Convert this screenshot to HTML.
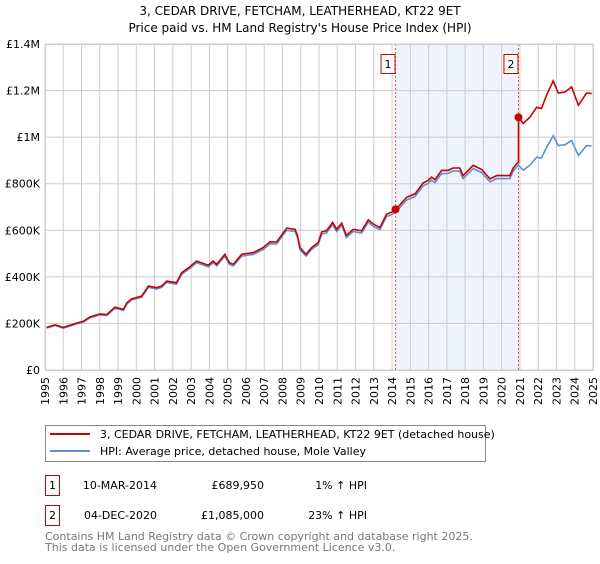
<!DOCTYPE html>
<html><head><meta charset="utf-8"><style>
body{margin:0;background:#fff;width:600px;height:560px;overflow:hidden;font-family:"DejaVu Sans","Liberation Sans",sans-serif;}
svg text{font-family:"DejaVu Sans","Liberation Sans",sans-serif;}
</style></head><body>
<svg id="c" width="600" height="560" xmlns="http://www.w3.org/2000/svg">
<text x="300" y="15" text-anchor="middle" font-size="12" fill="#000">3, CEDAR DRIVE, FETCHAM, LEATHERHEAD, KT22 9ET</text>
<text x="300" y="32" text-anchor="middle" font-size="12" fill="#000">Price paid vs. HM Land Registry's House Price Index (HPI)</text>
<g id="grid"></g>
<g id="marks"></g>
<g id="axes"></g>
<g>
<rect x="45.5" y="425.5" width="440" height="36" fill="#fff" stroke="#888"/>
<line x1="50" y1="434" x2="90" y2="434" stroke="#cc0000" stroke-width="2"/>
<text x="100" y="438" font-size="11">3, CEDAR DRIVE, FETCHAM, LEATHERHEAD, KT22 9ET (detached house)</text>
<line x1="50" y1="451" x2="90" y2="451" stroke="#5b8fd6" stroke-width="2"/>
<text x="100" y="455" font-size="11">HPI: Average price, detached house, Mole Valley</text>
</g>
<g>
<rect x="45.5" y="475.5" width="14" height="20" fill="#fff" stroke="#cc0000"/>
<text x="52.5" y="489" text-anchor="middle" font-size="11">1</text>
<text x="157" y="489" text-anchor="end" font-size="11">10-MAR-2014</text>
<text x="264" y="489" text-anchor="end" font-size="11">£689,950</text>
<text x="367" y="489" text-anchor="end" font-size="11">1% ↑ HPI</text>
<rect x="45.5" y="505.5" width="14" height="20" fill="#fff" stroke="#cc0000"/>
<text x="52.5" y="519" text-anchor="middle" font-size="11">2</text>
<text x="157" y="519" text-anchor="end" font-size="11">04-DEC-2020</text>
<text x="264" y="519" text-anchor="end" font-size="11">£1,085,000</text>
<text x="367" y="519" text-anchor="end" font-size="11">23% ↑ HPI</text>
</g>
<text x="45" y="540" font-size="11" fill="#777">Contains HM Land Registry data © Crown copyright and database right 2025.</text>
<text x="45" y="551" font-size="11" fill="#777">This data is licensed under the Open Government Licence v3.0.</text>
</svg>
<script>
const hpiYears=[1995.09,1995.55,1996.0,1996.73,1997.1,1997.46,1998.0,1998.38,1998.83,1999.29,1999.47,1999.74,2000.29,2000.66,2001.11,2001.39,2001.66,2002.2,2002.48,2002.94,2003.3,2003.94,2004.2,2004.4,2004.85,2005.09,2005.31,2005.77,2006.4,2006.95,2007.32,2007.68,2008.23,2008.69,2008.83,2008.96,2009.29,2009.6,2009.96,2010.15,2010.4,2010.75,2010.97,2011.24,2011.5,2011.87,2012.33,2012.7,2012.97,2013.33,2013.7,2014.03,2014.25,2014.8,2015.26,2015.7,2015.98,2016.16,2016.35,2016.71,2017.07,2017.34,2017.7,2017.89,2018.44,2018.9,2019.36,2019.73,2020.1,2020.45,2020.63,2020.91,2021.18,2021.55,2021.91,2022.18,2022.46,2022.82,2023.1,2023.46,2023.83,2024.2,2024.65,2024.93];
const hpiValues=[180,191,180,198,206,224,237,234,266,256,283,301,312,355,348,355,376,369,411,437,461,443,461,447,489,454,447,489,496,518,542,541,600,595,567,517,489,518,539,584,588,624,595,621,569,595,588,635,617,602,659,669,683,730,745,791,801,815,805,844,844,854,854,822,865,848,808,822,822,822,854,880,858,880,914,910,957,1006,964,967,985,921,964,962];
const saleDates=[2014.19,2020.92];
const salePrices=[689950,1085000];
const saleLabels=["1","2"];
const yTicks=[0,200000,400000,600000,800000,1000000,1200000,1400000];
const yTickLabels=["£0","£200K","£400K","£600K","£800K","£1M","£1.2M","£1.4M"];
const xTickYears=[1995,1996,1997,1998,1999,2000,2001,2002,2003,2004,2005,2006,2007,2008,2009,2010,2011,2012,2013,2014,2015,2016,2017,2018,2019,2020,2021,2022,2023,2024,2025];

const NS="http://www.w3.org/2000/svg";
const X0=45,X1=593,Y0=370,Y1=44;
const xS=y=>X0+(y-1995)/30*(X1-X0);
const yS=v=>Y0-v/1400000*(Y0-Y1);
function mk(tag,attrs,parent){const e=document.createElementNS(NS,tag);for(const k in attrs)e.setAttribute(k,attrs[k]);parent.appendChild(e);return e;}
const grid=document.getElementById('grid'),marks=document.getElementById('marks'),axes=document.getElementById('axes');
let sh=mk('rect',{x:xS(saleDates[0]),y:Y1,width:xS(saleDates[1])-xS(saleDates[0]),height:Y0-Y1,fill:'#eef3fc'},grid);


xTickYears.forEach(yr=>{
 const l=mk('line',{x1:xS(yr),x2:xS(yr),y1:Y1,y2:Y0,stroke:'#cccccc','stroke-width':1},grid);
 
 
 const tx=xS(yr)+4,ty=377;
 const t=mk('text',{x:tx,y:ty,'font-size':11,'text-anchor':'end',transform:'rotate(-90 '+tx.toFixed(1)+' '+ty+')'},axes);
 t.textContent=yr;
 
 
});
yTicks.forEach((v,i)=>{
 const l=mk('line',{x1:X0,x2:X1,y1:yS(v),y2:yS(v),stroke:'#cccccc','stroke-width':1},grid);
 
 
 const t=mk('text',{x:40,y:yS(v)+4,'font-size':11,'text-anchor':'end'},axes);
 t.textContent=yTickLabels[i];
 
 
});
function hpiAt(d){for(let i=1;i<hpiYears.length;i++){if(d<=hpiYears[i]){const f=(d-hpiYears[i-1])/(hpiYears[i]-hpiYears[i-1]);return (hpiValues[i-1]+f*(hpiValues[i]-hpiValues[i-1]))*1000;}}return hpiValues[hpiValues.length-1]*1000;}
saleDates.forEach((d,i)=>{
 const l=mk('line',{x1:xS(d),x2:xS(d),y1:Y1,y2:Y0,stroke:'#e05555','stroke-width':1,'stroke-dasharray':'2,2'},grid);
 
 
});
const hp=hpiYears.map((y,i)=>xS(y).toFixed(1)+','+yS(hpiValues[i]*1000).toFixed(1)).join(' ');
const hl=mk('polyline',{points:hp,fill:'none',stroke:'#5b8fd6','stroke-width':1.6},marks);


const f1=salePrices[0]/hpiAt(saleDates[0]),f2=salePrices[1]/hpiAt(saleDates[1]);
const pts=[];let done=false;
hpiYears.forEach((y,i)=>{
 if(y>saleDates[1]&&!done){pts.push([saleDates[1],hpiAt(saleDates[1])*f1]);pts.push([saleDates[1],salePrices[1]]);done=true;}
 const f=y<=saleDates[1]?f1:f2;
 pts.push([y,hpiValues[i]*1000*f]);
});
const pl=mk('polyline',{points:pts.map(p=>xS(p[0]).toFixed(1)+','+yS(p[1]).toFixed(1)).join(' '),fill:'none',stroke:'#cc0000','stroke-width':1.6},marks);


saleDates.forEach((d,i)=>{
 const c=mk('circle',{cx:xS(d),cy:yS(salePrices[i]),r:4,fill:'#cc0000'},marks);
 
 
 const b=mk('rect',{x:xS(d)-14.5,y:54.5,width:14,height:19,fill:'#fff',stroke:'#cc0000'},marks);
 
 
 const t=mk('text',{x:xS(d)-7.5,y:68,'font-size':11,'text-anchor':'middle'},marks);
 t.textContent=saleLabels[i];
 
 
});
const fr=mk('rect',{x:X0+0.5,y:Y1+0.5,width:X1-X0,height:Y0-Y1,fill:'none',stroke:'#cccccc'},axes);


</script>
</body></html>
